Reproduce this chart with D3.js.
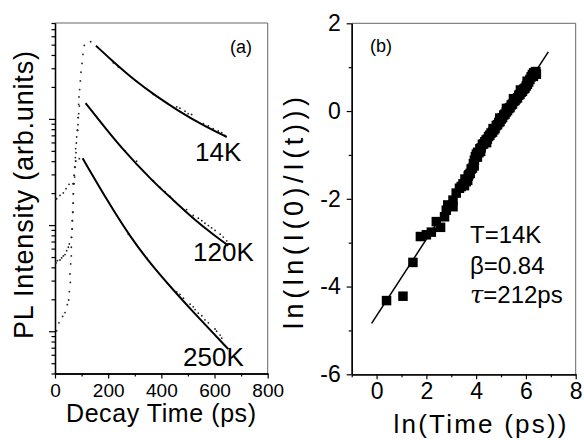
<!DOCTYPE html>
<html>
<head>
<meta charset="utf-8">
<script src="https://cdn.jsdelivr.net/npm/d3@7"></script>
<style>
  body { margin: 0; background: #fff; }
  text { font-family: "Liberation Sans", Arial, sans-serif; fill: #000; }
</style>
</head>
<body>
<svg id="chart" width="584" height="440"></svg>
<script>
// ---- panel (a): PL decay, [time ps, intensity arb.] ----
const dots14K = [
  [3.8, 0.177], [6.3, 0.177], [18.8, 0.190], [31.3, 0.201], [41.4, 0.220], [52.7, 0.242],
  [67.7, 0.245], [71.5, 0.294], [74.0, 0.352], [76.5, 0.432], [77.7, 0.525], [81.5, 0.676],
  [84.0, 0.782], [86.5, 1.03], [89.0, 1.37], [90.3, 1.61], [92.8, 1.89], [95.3, 2.28],
  [97.8, 2.75], [101.5, 3.33], [105.3, 4.05], [110.3, 4.92], [134.1, 5.33],
  [219, 3.37], [238, 3.09], [307, 2.26], [370, 1.70], [458, 1.30], [470, 1.26], [489, 1.18],
  [501, 1.12], [514, 1.10], [558, 0.90], [577, 0.86], [595, 0.81], [614, 0.77],
  [627, 0.74], [639, 0.70]
];
const dots120K = [
  [3.8, 0.044], [8.8, 0.0462], [18.8, 0.0469], [25.1, 0.0490], [31.3, 0.0512], [37.6, 0.0527],
  [43.9, 0.0574], [50.1, 0.0618], [53.9, 0.0664], [61.4, 0.0767], [63.9, 0.0920], [65.2, 0.110],
  [67.7, 0.132], [68.9, 0.161], [68.9, 0.197], [71.5, 0.245], [74.0, 0.283], [75.2, 0.352],
  [77.7, 0.401], [79.0, 0.481], [80.2, 0.593], [85.2, 0.782], [86.5, 0.883], [87.8, 1.03],
  [89.0, 1.12], [91.5, 1.32],
  [263, 0.50], [307, 0.40], [370, 0.262], [395, 0.226], [414, 0.206], [433, 0.186],
  [495, 0.140], [520, 0.123], [539, 0.116], [552, 0.110], [564, 0.104], [577, 0.099],
  [589, 0.094], [602, 0.089], [621, 0.082], [633, 0.077], [646, 0.071]
];
const dots250K = [
  [6.3, 0.0101], [15.0, 0.0120], [28.8, 0.0138], [37.6, 0.0150], [46.4, 0.0178], [51.4, 0.0197],
  [53.9, 0.0236], [57.7, 0.0288], [56.4, 0.0346], [58.9, 0.0431], [61.4, 0.0512], [61.4, 0.0618],
  [62.7, 0.0767], [65.2, 0.0920], [65.2, 0.110], [66.4, 0.132], [67.7, 0.161], [68.9, 0.197],
  [70.2, 0.245], [72.7, 0.294], [75.2, 0.350], [77.7, 0.401], [91.5, 0.422],
  [276, 0.082], [345, 0.049], [458, 0.0235], [470, 0.0222], [483, 0.0205], [508, 0.0180],
  [520, 0.0170], [527, 0.0160], [539, 0.0148], [552, 0.0140], [564, 0.0128], [577, 0.0120],
  [602, 0.0105], [608, 0.0100], [621, 0.0092], [627, 0.0086]
];
const fit14K = [[154, 4.89], [219, 3.45], [307, 2.23], [376, 1.67], [464, 1.19], [552, 0.885], [646, 0.675]];
const fit120K = [[115, 1.41], [169, 0.95], [244, 0.552], [370, 0.254], [445, 0.172], [520, 0.115], [595, 0.0815], [652, 0.064]];
const fit250K = [[104, 0.425], [207, 0.154], [282, 0.0783], [357, 0.0438], [445, 0.0244], [520, 0.0152], [589, 0.00995], [652, 0.00678]];
const curveLabels = ["14K", "120K", "250K"];
const xTicksA = [0, 200, 400, 600, 800];

// ---- panel (b): ln(ln(I0/I)) vs ln(t) ----
const pointsB = [
  [0.40, -4.32], [1.06, -4.22], [1.46, -3.45], [1.76, -2.86], [2.00, -2.82], [2.20, -2.76],
  [2.40, -2.52], [2.57, -2.65], [2.73, -2.41], [2.80, -2.26], [2.86, -2.14], [3.07, -2.18],
  [3.07, -2.03], [3.20, -1.87], [3.33, -1.76], [3.40, -1.72], [3.47, -1.66], [3.53, -1.70],
  [3.60, -1.61], [3.66, -1.58], [3.71, -1.45], [3.76, -1.42], [3.80, -1.32], [3.85, -1.30],
  [3.89, -1.20], [3.93, -1.12], [3.97, -1.04], [4.01, -0.98], [4.06, -0.94], [4.11, -0.95],
  [4.15, -0.86], [4.20, -0.84], [4.25, -0.76], [4.30, -0.75], [4.35, -0.70], [4.40, -0.66],
  [4.45, -0.64], [4.50, -0.58], [4.55, -0.55], [4.60, -0.50], [4.66, -0.48], [4.71, -0.43],
  [4.76, -0.40], [4.81, -0.33], [4.86, -0.31], [4.91, -0.26], [4.96, -0.24], [5.01, -0.18],
  [5.06, -0.15], [5.11, -0.09], [5.16, -0.07], [5.21, -0.02], [5.26, 0.01], [5.31, 0.06],
  [5.36, 0.08], [5.41, 0.14], [5.46, 0.16], [5.51, 0.22], [5.56, 0.24], [5.61, 0.28],
  [5.66, 0.30], [5.71, 0.36], [5.76, 0.38], [5.81, 0.43], [5.86, 0.45], [5.91, 0.50],
  [5.96, 0.52], [6.01, 0.57], [6.06, 0.61], [6.11, 0.66], [6.16, 0.72], [6.21, 0.78],
  [6.26, 0.83], [6.31, 0.87], [6.36, 0.88], [6.40, 0.90],
  [3.55, -1.55], [3.68, -1.48], [3.92, -1.25], [4.05, -1.05], [4.18, -0.92], [4.42, -0.72],
  [4.68, -0.40], [4.95, -0.16], [5.22, 0.06], [5.50, 0.28], [5.78, 0.48], [6.05, 0.68],
  [6.30, 0.79], [6.42, 0.84]
];
const fitB = [[-0.2, -4.84], [6.9, 1.35]];
const xTicksB = [0, 2, 4, 6, 8];
const yTicksB = [-6, -4, -2, 0, 2];
const fitParams = ["T=14K", "β=0.84", "=212ps"];

const svg = d3.select("#chart");

// scales
const xA = d3.scaleLinear([0, 800], [55, 267.7]);
const yA = d3.scaleLog([0.004, 8], [373.5, 23]);
const xB = d3.scaleLinear([-1, 8], [351.7, 575.7]);
const yB = d3.scaleLinear([-6, 2], [374.3, 23.3]);

function styleAxis(g, size) {
  g.attr("font-family", null).attr("font-size", size);
  g.selectAll(".domain").attr("stroke", "#000").attr("stroke-width", 1.3);
  g.selectAll(".tick line").attr("stroke", "#000").attr("stroke-width", 1.2);
}

// ===== panel (a) =====
const gA = svg.append("g");

// frame top / right
gA.append("path")
  .attr("d", `M${xA(0)},${yA(8)}H${xA(800)}V${yA(0.004)}`)
  .attr("fill", "none").attr("stroke", "#666").attr("stroke-width", 1);

gA.append("g")
  .attr("transform", `translate(0,${yA(0.004)})`)
  .call(d3.axisBottom(xA).tickValues([100, 300, 500, 700]).tickSize(3).tickSizeOuter(0).tickFormat(""))
  .call(g => styleAxis(g, 19));
gA.append("g")
  .attr("transform", `translate(0,${yA(0.004)})`)
  .call(d3.axisBottom(xA).tickValues(xTicksA).tickSize(5).tickSizeOuter(0))
  .call(g => styleAxis(g, 19))
  .call(g => g.selectAll("text").attr("dy", null).attr("y", 23));

const minorA = yA.ticks().filter(v => Math.abs(Math.log10(v) - Math.round(Math.log10(v))) > 1e-6);
gA.append("g")
  .attr("transform", `translate(${xA(0)},0)`)
  .call(d3.axisLeft(yA).tickValues(minorA).tickSize(3.5).tickSizeOuter(0).tickFormat(""))
  .call(g => styleAxis(g, 19));
gA.append("g")
  .attr("transform", `translate(${xA(0)},0)`)
  .call(d3.axisLeft(yA).tickValues([0.01, 0.1, 1]).tickSize(6).tickSizeOuter(0).tickFormat(""))
  .call(g => styleAxis(g, 19));

const lineA = d3.line().x(d => xA(d[0])).y(d => yA(d[1])).curve(d3.curveBasis);
[dots14K, dots120K, dots250K].forEach(ds => {
  gA.append("g").selectAll("circle").data(ds).join("circle")
    .attr("cx", d => xA(d[0])).attr("cy", d => yA(d[1])).attr("r", 0.9).attr("fill", "#222");
});
[fit14K, fit120K, fit250K].forEach(fs => {
  gA.append("path").attr("d", lineA(fs))
    .attr("fill", "none").attr("stroke", "#000").attr("stroke-width", 2);
});

const labelPos = [[195, 161], [193, 261], [183, 366]];
gA.selectAll("text.lab").data(curveLabels).join("text")
  .attr("class", "lab")
  .attr("x", (d, i) => labelPos[i][0]).attr("y", (d, i) => labelPos[i][1])
  .attr("font-size", 26).text(d => d);

gA.append("text").attr("x", 230).attr("y", 53).attr("font-size", 18).text("(a)");

gA.append("text")
  .attr("transform", "translate(33,195) rotate(-90)")
  .attr("text-anchor", "middle").attr("font-size", 27)
  .attr("textLength", 288).attr("lengthAdjust", "spacing")
  .text("PL Intensity (arb.units)");
gA.append("text")
  .attr("x", 161).attr("y", 422)
  .attr("text-anchor", "middle").attr("font-size", 25)
  .attr("textLength", 190).attr("lengthAdjust", "spacing")
  .text("Decay Time (ps)");

// ===== panel (b) =====
const gB = svg.append("g");

gB.append("path")
  .attr("d", `M${xB(-1)},${yB(2)}H${xB(8)}V${yB(-6)}`)
  .attr("fill", "none").attr("stroke", "#666").attr("stroke-width", 1);

gB.append("g")
  .attr("transform", `translate(0,${yB(-6)})`)
  .call(d3.axisBottom(xB).tickValues([-1, 1, 3, 5, 7]).tickSize(3).tickSizeOuter(0).tickFormat(""))
  .call(g => styleAxis(g, 23));
gB.append("g")
  .attr("transform", `translate(0,${yB(-6)})`)
  .call(d3.axisBottom(xB).tickValues(xTicksB).tickSize(5).tickSizeOuter(0).tickFormat(d => String(d)))
  .call(g => styleAxis(g, 23))
  .call(g => g.selectAll("text").attr("dy", null).attr("y", 25));

gB.append("g")
  .attr("transform", `translate(${xB(-1)},0)`)
  .call(d3.axisLeft(yB).tickValues([-5, -3, -1, 1]).tickSize(3).tickSizeOuter(0).tickFormat(""))
  .call(g => styleAxis(g, 23));
gB.append("g")
  .attr("transform", `translate(${xB(-1)},0)`)
  .call(d3.axisLeft(yB).tickValues(yTicksB).tickSize(5).tickPadding(6).tickSizeOuter(0).tickFormat(d => String(d)))
  .call(g => styleAxis(g, 23));

const sq = 9.5;
gB.append("g").selectAll("rect").data(pointsB).join("rect")
  .attr("x", d => xB(d[0]) - sq / 2).attr("y", d => yB(d[1]) - sq / 2)
  .attr("width", sq).attr("height", sq).attr("fill", "#000");

gB.append("path")
  .attr("d", d3.line().x(d => xB(d[0])).y(d => yB(d[1]))(fitB))
  .attr("fill", "none").attr("stroke", "#000").attr("stroke-width", 1.5);

gB.append("text").attr("x", 370).attr("y", 52).attr("font-size", 18).text("(b)");

gB.append("text").attr("x", 470).attr("y", 243).attr("font-size", 24).text(fitParams[0]);
gB.append("text").attr("x", 470).attr("y", 274).attr("font-size", 24).text(fitParams[1]);
const tau = gB.append("text").attr("x", 470).attr("y", 303).attr("font-size", 24);
tau.append("tspan").attr("font-style", "italic").attr("font-family", "DejaVu Serif, serif").text("τ");
tau.append("tspan").text(fitParams[2]);

gB.append("text")
  .attr("transform", "translate(303,213) rotate(-90)")
  .attr("text-anchor", "middle").attr("font-size", 27)
  .attr("textLength", 232).attr("lengthAdjust", "spacing")
  .text("ln(ln(I(0)/I(t)))");
gB.append("text")
  .attr("x", 480).attr("y", 433)
  .attr("text-anchor", "middle").attr("font-size", 26)
  .attr("textLength", 173).attr("lengthAdjust", "spacing")
  .text("ln(Time (ps))");
</script>
</body>
</html>
